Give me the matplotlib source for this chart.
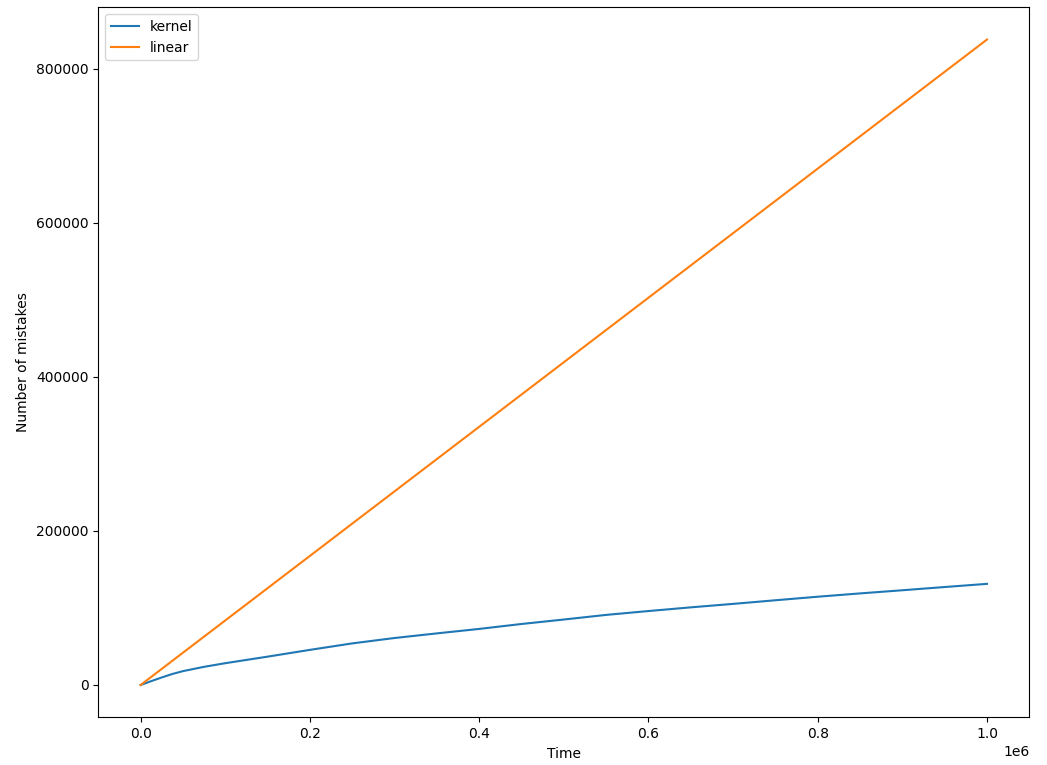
import matplotlib
matplotlib.use("Agg")
import matplotlib.pyplot as plt

# mistakes over time
kernel_t = [0, 12500, 25000, 37500, 50000, 75000, 100000, 150000, 200000,
            250000, 300000, 350000, 400000, 450000, 500000, 550000, 600000,
            650000, 700000, 750000, 800000, 850000, 900000, 950000, 1000000]
kernel_mistakes = [0, 5000, 9800, 14300, 18000, 23600, 28300, 36800, 45600,
                   54000, 61000, 67000, 72800, 79200, 85000, 91000, 96000,
                   100800, 105300, 110000, 114600, 118900, 123000, 127200,
                   131300]

linear_t = [0, 250000, 500000, 750000, 1000000]
linear_mistakes = [0, 209500, 419000, 628500, 838000]

fig, ax = plt.subplots(figsize=(10.47, 7.65), dpi=100)
ax.plot(kernel_t, kernel_mistakes, label="kernel")
ax.plot(linear_t, linear_mistakes, label="linear")
ax.set_xlabel("Time")
ax.set_ylabel("Number of mistakes")
ax.legend(loc="upper left")
fig.subplots_adjust(left=0.0939, right=0.9831, bottom=0.0624, top=0.9905)
fig.savefig("out.png", dpi=100)
